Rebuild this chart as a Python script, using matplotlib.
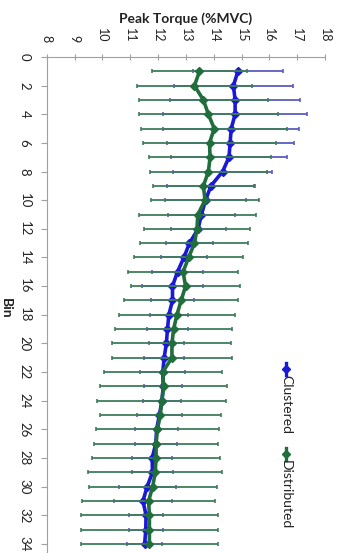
import matplotlib
matplotlib.use("Agg")
import matplotlib.pyplot as plt
from matplotlib.lines import Line2D

plt.rcParams['font.family'] = ['Lato', 'DejaVu Sans']

# bins on the (rotated) category axis
bins = list(range(1, 35))

clustered = [14.87, 14.71, 14.77, 14.77, 14.63, 14.59, 14.55, 14.32, 13.90, 13.71,
             13.56, 13.44, 13.13, 12.93, 12.70, 12.52, 12.52, 12.39, 12.34, 12.30,
             12.22, 12.17, 12.19, 12.14, 12.05, 11.95, 11.92, 11.79, 11.80, 11.61,
             11.46, 11.57, 11.56, 11.52]
clustered_err = [1.62, 2.14, 2.33, 2.60, 2.45, 2.28, 2.08, 1.79, 1.58, 1.45,
                 1.19, 0.99, 0.84, 0.83, 0.93, 1.08, 0.79, 0.68, 0.73, 0.64,
                 0.72, 0.80, 0.68, 0.69, 0.80, 0.78, 0.75, 0.73, 0.75, 1.02,
                 1.04, 0.61, 0.61, 0.63]

distributed = [13.49, 13.31, 13.63, 13.81, 14.02, 13.85, 13.87, 13.81, 13.63, 13.69,
               13.43, 13.40, 13.31, 13.10, 12.90, 12.99, 12.83, 12.68, 12.56, 12.50,
               12.50, 12.17, 12.20, 12.14, 12.08, 11.98, 11.93, 11.93, 11.90, 11.81,
               11.66, 11.69, 11.69, 11.69]
distributed_err = [1.71, 2.06, 2.31, 2.49, 2.63, 2.40, 2.19, 2.09, 1.82, 1.94,
                   2.10, 1.90, 1.94, 1.95, 1.97, 1.96, 2.05, 2.10, 2.10, 2.14,
                   2.17, 2.12, 2.28, 2.32, 2.17, 2.22, 2.24, 2.29, 2.40, 2.30,
                   2.38, 2.47, 2.47, 2.46]

x_ticks = list(range(8, 19))
y_ticks = list(range(0, 35, 2))

blue = '#1a1ad6'
blue_bar = '#5b5bc4'
green = '#1f6e3c'
green_bar = '#3f7d5c'

W, H = 344, 553
fig = plt.figure(figsize=(W / 100, H / 100), dpi=100)
fig.patch.set_facecolor('white')
ax = fig.add_axes([46.7 / W, 0, (325 - 46.7) / W, 1 - 57 / H])

# Clustered first, Distributed drawn over it (Excel order)
ax.errorbar(clustered, bins, xerr=clustered_err, fmt='none', ecolor=blue_bar,
            elinewidth=1.3, capsize=1.2, capthick=1.2, zorder=2)
ax.plot(clustered, bins, color=blue, lw=2.6, marker='D', ms=3.8, zorder=3)
ax.errorbar(distributed, bins, xerr=distributed_err, fmt='none', ecolor=green_bar,
            elinewidth=1.3, capsize=1.2, capthick=1.2, zorder=4)
ax.plot(distributed, bins, color=green, lw=2.6, marker='D', ms=3.8, zorder=5)

ax.set_xlim(8, 18)
ax.set_ylim((H - 57) / 14.32, 0)
ax.set_xticks(x_ticks)
ax.set_yticks(y_ticks)
ax.xaxis.tick_top()
for s in ['right', 'bottom']:
    ax.spines[s].set_visible(False)
for s in ['top', 'left']:
    ax.spines[s].set_color('#a0a0a0')
    ax.spines[s].set_linewidth(0.8)
ax.tick_params(axis='x', direction='inout', length=5, width=0.8, color='#a0a0a0',
               labelrotation=-90, labelsize=9, pad=8, labelcolor='#222222')
ax.tick_params(axis='y', direction='out', length=4, width=0.8, color='#a0a0a0',
               labelrotation=-90, labelsize=9.5, pad=12, labelcolor='#222222')
for lab in ax.get_yticklabels():
    lab.set_verticalalignment('center')
    lab.set_horizontalalignment('center')

fig.text(186 / W, 1 - 19 / H, 'Peak Torque (%MVC)', ha='center', va='center',
         fontsize=10, fontweight='bold', color='#222222')
fig.text(6 / W, 1 - 308 / H, 'Bin', ha='center', va='center', rotation=-90,
         fontsize=10, fontweight='bold', color='#222222')

# legend, rotated like the rest of the chart
for name, col, y0 in [('Clustered', blue, 363), ('Distributed', green, 448)]:
    fig.add_artist(Line2D([286 / W, 286 / W], [1 - y0 / H, 1 - (y0 + 12) / H],
                          color=col, lw=2.4, transform=fig.transFigure))
    fig.add_artist(Line2D([286 / W], [1 - (y0 + 6) / H], color=col, marker='D', ms=3.8,
                          transform=fig.transFigure))
    fig.text(286 / W, 1 - (y0 + 12) / H, name, rotation=-90, rotation_mode='anchor',
             ha='left', va='center', fontsize=10, color='#222222')

fig.savefig('out.png', dpi=100)
